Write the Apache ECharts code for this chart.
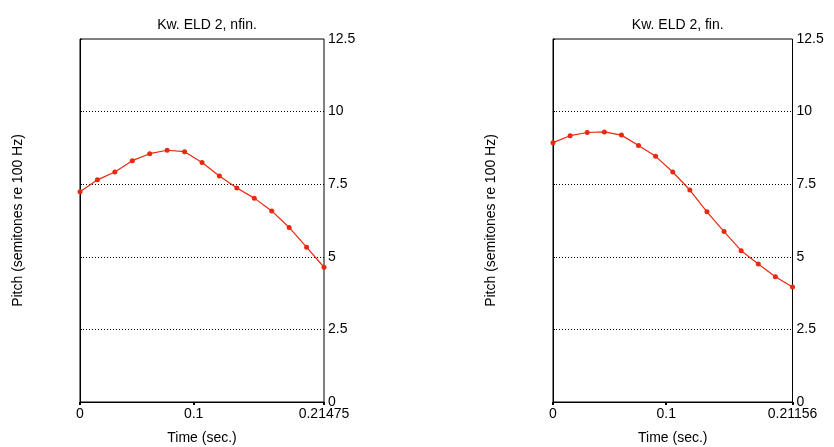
<!DOCTYPE html>
<html>
<head>
<meta charset="utf-8">
<script src="https://cdn.jsdelivr.net/npm/echarts@6/dist/echarts.min.js"></script>
<style>
html,body{margin:0;padding:0;background:#fff;}
#chart{width:834px;height:447px;}
</style>
</head>
<body>
<div id="chart"></div>
<script>
// ---- Data ----
var titles = ['Kw. ELD 2, nfin.', 'Kw. ELD 2, fin.'];
var xMaxes = [0.21475, 0.21156];
var yTicks = [0, 2.5, 5, 7.5, 10, 12.5];
var timesNfin = [0, 0.01534, 0.03068, 0.04602, 0.06136, 0.07670, 0.09204, 0.10738, 0.12271, 0.13805, 0.15339, 0.16873, 0.18407, 0.19941, 0.21475];
var pitchNfin = [7.24, 7.65, 7.92, 8.31, 8.55, 8.67, 8.62, 8.25, 7.78, 7.37, 7.02, 6.58, 6.01, 5.33, 4.64];
var timesFin = [0, 0.01511, 0.03022, 0.04533, 0.06045, 0.07556, 0.09067, 0.10578, 0.12089, 0.13600, 0.15111, 0.16622, 0.18134, 0.19645, 0.21156];
var pitchFin = [8.93, 9.17, 9.28, 9.30, 9.19, 8.83, 8.46, 7.92, 7.30, 6.55, 5.87, 5.21, 4.75, 4.31, 3.96];
var xLabel = 'Time (sec.)';
var yLabel = 'Pitch (semitones re 100 Hz)';

var FONT = 'Liberation Sans, Arial, sans-serif';
var RED = '#e8290f';

function pairs(xs, ys){ return xs.map(function(x,i){ return [x, ys[i]]; }); }

var grids = [
  {left: 80, width: 244, top: 39, height: 363},
  {left: 553, width: 239.5, top: 39, height: 363}
];

var chart = echarts.init(document.getElementById('chart'), null, {renderer:'canvas'});
var option = {
  animation: false,
  backgroundColor: '#fff',
  title: grids.map(function(g, i){
    return {
      text: titles[i], left: g.left + g.width/2, top: 13, textAlign: 'center',
      textStyle: {fontFamily: FONT, fontSize: 14, fontWeight: 'normal', color: '#000'}
    };
  }),
  grid: grids.map(function(g){
    return {left: g.left, width: g.width, top: g.top, height: g.height, containLabel: false, outerBoundsMode: 'none',
      show: true, borderColor: '#000', borderWidth: 1, backgroundColor: 'transparent'};
  }),
  xAxis: grids.map(function(g, i){
    var ticks = [0, 0.1, xMaxes[i]];
    return {
      type: 'value', gridIndex: i, min: 0, max: xMaxes[i],
      name: xLabel, nameLocation: 'middle', nameGap: 29,
      nameTextStyle: {fontFamily: FONT, fontSize: 14, color: '#000'},
      axisLine: {show: true, lineStyle: {color: '#000', width: 1}},
      axisTick: {show: true, length: 3, customValues: ticks, lineStyle: {color: '#000', width: 2}},
      axisLabel: {show: true, customValues: ticks, margin: 5, fontFamily: FONT, fontSize: 14, color: '#000',
        formatter: function(v){ return String(v); }},
      splitLine: {show: false}
    };
  }),
  yAxis: grids.map(function(g, i){
    return {
      type: 'value', gridIndex: i, min: 0, max: 12.5, interval: 2.5, position: 'right',
      axisLine: {show: true, lineStyle: {color: '#000', width: 1}},
      axisTick: {show: true, length: 2, lineStyle: {color: '#000'}},
      axisLabel: {show: true, margin: 4, fontFamily: FONT, fontSize: 14, color: '#000',
        formatter: function(v){ return yTicks.indexOf(v) >= 0 ? String(v) : ''; }},
      splitLine: {show: true, showMinLine: false, showMaxLine: false, lineStyle: {color: '#000', type: [1, 2], width: 1}}
    };
  }),
  graphic: grids.map(function(g, i){
    return {
      type: 'text', x: (i === 0 ? 18 : 491), y: g.top + g.height/2, rotation: Math.PI/2,
      style: {text: yLabel, font: '14px ' + FONT, fill: '#000', align: 'center', verticalAlign: 'middle'}
    };
  }),
  series: [
    {type: 'line', xAxisIndex: 0, yAxisIndex: 0, data: pairs(timesNfin, pitchNfin),
     symbol: 'circle', symbolSize: 5, clip: false,
     lineStyle: {color: RED, width: 1.2}, itemStyle: {color: RED}},
    {type: 'line', xAxisIndex: 1, yAxisIndex: 1, data: pairs(timesFin, pitchFin),
     symbol: 'circle', symbolSize: 5, clip: false,
     lineStyle: {color: RED, width: 1.2}, itemStyle: {color: RED}}
  ]
};
chart.setOption(option);
</script>
</body>
</html>
